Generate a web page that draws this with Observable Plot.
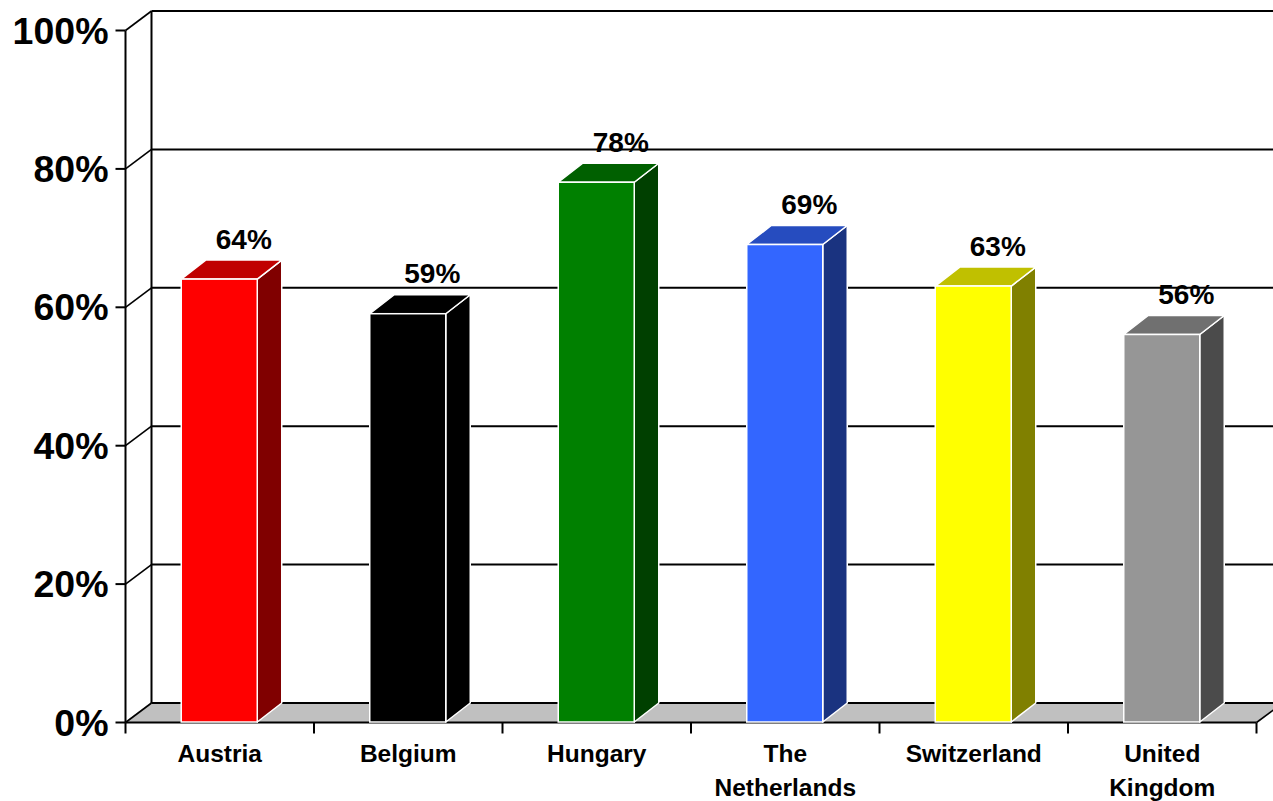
<!DOCTYPE html>
<html><head><meta charset="utf-8">
<script src="https://cdn.jsdelivr.net/npm/d3@7"></script>
<script src="https://cdn.jsdelivr.net/npm/@observablehq/plot@0.6"></script>
<style>html,body{margin:0;padding:0;background:#fff;overflow:hidden}</style>
</head><body><div id="chart"></div>
<script>
// ---- data ----
const countries = ["Austria", "Belgium", "Hungary", "The\nNetherlands", "Switzerland", "United\nKingdom"];
const shares = [0.64, 0.59, 0.78, 0.69, 0.63, 0.56];
const frontColors = ["#FF0000", "#000000", "#008000", "#3366FF", "#FFFF00", "#969696"];
const topColors   = ["#C00000", "#000000", "#006000", "#264CBF", "#C0C000", "#707070"];
const sideColors  = ["#800000", "#000000", "#004000", "#1A3380", "#808000", "#4B4B4B"];
const yTicks = [0, 0.2, 0.4, 0.6, 0.8, 1];
const yTickLabels = ["0%", "20%", "40%", "60%", "80%", "100%"];

// ---- layout ----
const W = 1273, H = 801;
const X0 = 125, X1 = 1256, Y0 = 722, Y1 = 30;
const n = countries.length;
const pxX = (X1 - X0) / n, pxY = Y0 - Y1;
const ux = p => p / pxX, uy = p => p / pxY;
const wallD = ux(26), wallE = uy(19.5);
const barD = ux(24.5), barE = uy(19);
const halfW = ux(38);

const bars = countries.map((c, i) => ({
  i, c, v: shares[i], xl: i + 0.5 - halfW, xr: i + 0.5 + halfW,
  front: frontColors[i], top: topColors[i], side: sideColors[i],
  label: Math.round(shares[i] * 100) + "%"
}));
const sides = bars.flatMap(b => [
  {i: b.i, x: b.xr, y1: 0, y2: b.v, fill: b.side},
  {i: b.i, x: b.xr + barD, y1: barE, y2: b.v + barE, fill: b.side}
]);
const tops = bars.flatMap(b => [
  {i: b.i, y: b.v, x1: b.xl, x2: b.xr, fill: b.top},
  {i: b.i, y: b.v + barE, x1: b.xl + barD, x2: b.xr + barD, fill: b.top}
]);
const ticksY = yTicks.map((t, k) => ({t, label: yTickLabels[k]}));

const font = "'Liberation Sans', Arial, Helvetica, sans-serif";

const chart = Plot.plot({
  width: W, height: H,
  marginTop: 0, marginBottom: 0, marginLeft: 0, marginRight: 0,
  x: {domain: [0, n], range: [X0, X1], axis: null},
  y: {domain: [0, 1], range: [Y0, Y1], axis: null},
  color: {type: "identity"},
  style: {fontFamily: font, background: "white", overflow: "hidden"},
  marks: [
    // floor
    Plot.areaX([{y: 0, x1: 0, x2: n}, {y: wallE, x1: wallD, x2: n + wallD}],
      {y: "y", x1: "x1", x2: "x2", fill: "#C0C0C0"}),
    // back wall gridlines
    Plot.link(yTicks, {x1: wallD, x2: n + wallD + 1, y1: d => d + wallE, y2: d => d + wallE, stroke: "black", strokeWidth: 2}),
    // side wall diagonals
    Plot.link(yTicks, {x1: 0, y1: d => d, x2: wallD, y2: d => d + wallE, stroke: "black", strokeWidth: 1.6}),
    // back wall left edge
    Plot.link([0], {x1: wallD, x2: wallD, y1: wallE, y2: 1 + wallE, stroke: "black", strokeWidth: 2}),
    // front y axis
    Plot.link([0], {x1: 0, x2: 0, y1: 0, y2: 1, stroke: "black", strokeWidth: 2}),
    // y tick marks
    Plot.link(yTicks, {x1: -ux(10), x2: 0, y1: d => d, y2: d => d, stroke: "black", strokeWidth: 2}),
    // x axis line and floor right edge
    Plot.link([0], {x1: 0, x2: n, y1: 0, y2: 0, stroke: "black", strokeWidth: 2}),
    Plot.link([0], {x1: n, y1: 0, x2: n + wallD, y2: wallE, stroke: "black", strokeWidth: 1.6}),
    // x tick marks
    Plot.link(d3.range(n + 1), {x1: d => d, x2: d => d, y1: 0, y2: -uy(11), stroke: "black", strokeWidth: 2}),
    // bar sides
    Plot.areaY(sides, {x: "x", y1: "y1", y2: "y2", z: "i", fill: "fill", stroke: "white", strokeWidth: 1.5, strokeLinejoin: "round"}),
    // bar tops
    Plot.areaX(tops, {y: "y", x1: "x1", x2: "x2", z: "i", fill: "fill", stroke: "white", strokeWidth: 1.5, strokeLinejoin: "round"}),
    // bar fronts
    Plot.rect(bars, {x1: "xl", x2: "xr", y1: 0, y2: "v", fill: "front", stroke: "white", strokeWidth: 1.5}),
    // value labels
    Plot.text(bars, {x: d => d.i + 0.5, y: "v", text: "label", dx: 24, dy: -40, lineAnchor: "middle",
      fontSize: 28, fontWeight: "bold", fill: "black"}),
    // category labels
    Plot.text(bars, {x: d => d.i + 0.5, y: 0, text: "c", dy: 15, lineAnchor: "top", lineHeight: 1.4,
      fontSize: 24.5, fontWeight: "bold", fill: "black"}),
    // y tick labels
    Plot.text(ticksY, {x: 0, y: "t", text: "label", dx: -17, dy: 1, textAnchor: "end", lineAnchor: "middle",
      fontSize: 37.5, fontWeight: "bold", fill: "black"})
  ]
});
document.getElementById("chart").appendChild(chart);
</script>
</body></html>
